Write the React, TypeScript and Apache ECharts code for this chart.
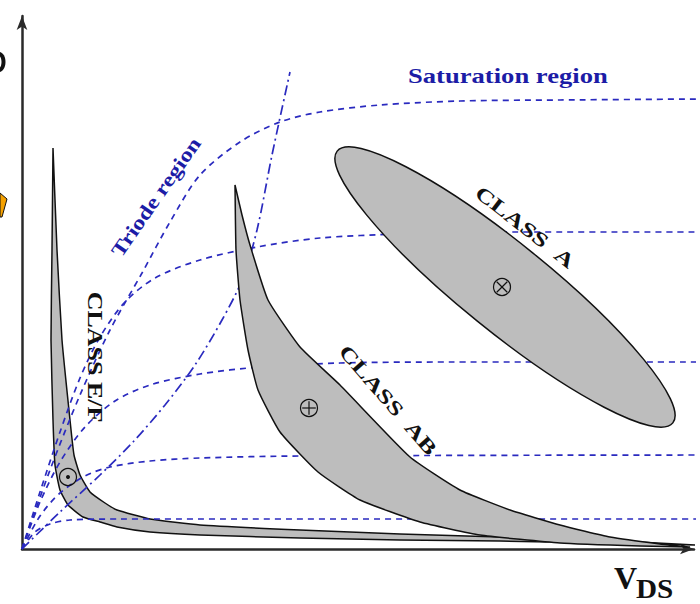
import React, { useEffect, useRef } from "react";
import * as echarts from "echarts";

// Drawing units: V_DS (x) and I_D (y), origin at the axes' corner.
const xMax = 672;
const yMax = 533;

// Output characteristics (blue dashed), one array per gate voltage
const satCurve1 = [[0,0],[28,79],[58,154],[88,219],[120,276],[148,327],[178,374],[218,407],[258,427],[298,437],[358,444],[438,448],[538,449],[678,450]];
const satCurve2 = [[0,0],[18,57],[38,117],[58,171],[78,212],[103,247],[133,271],[178,289],[235,302],[298,311],[378,315],[478,317],[678,317]];
const satCurve3 = [[0,0],[18,47],[38,87],[63,122],[93,148],[128,164],[178,175],[238,182],[318,186],[428,187],[678,187]];
const satCurve4 = [[0,0],[18,33],[38,56],[63,73],[88,82],[128,88],[178,91],[278,93],[678,94]];
const satCurve5 = [[0,0],[13,17],[28,25],[48,29],[98,30],[678,30]];

// Triode / saturation boundary (blue dash-dot)
const kneeLocus = [[0,0],[38,37],[78,74],[111,107],[143,144],[173,184],[200,229],[220,269],[235,319],[250,394],[268,477]];

// Class E/F trajectory band
const classEFOuter = [[31,401],[30,299],[29,209],[31,129],[33,84],[38,59],[46,44],[61,32],[78,27],[95,22],[128,17],[178,14],[278,11],[378,9],[478,8],[578,6],[673,4]];
const classEFInner = [[31,401],[35,299],[40,209],[48,129],[52,94],[58,74],[68,57],[83,46],[95,39],[128,30],[178,24],[278,19],[378,15],[478,12],[578,9],[673,4]];

// Class AB trajectory band
const classABOuter = [[213,364],[214,299],[218,249],[226,199],[236,159],[258,117],[296,77],[338,49],[398,27],[458,14],[538,6],[618,3],[668,2]];
const classABInner = [[213,364],[220,334],[228,304],[246,249],[278,202],[318,164],[388,92],[438,59],[488,39],[538,24],[588,12],[638,5],[668,2]];

// Class A ellipse
const classACenter = [483, 262];
const classAAxes = [216, 44];
const classATiltDeg = 39;

// Quiescent points
const qPoints = [[480, 262], [287, 141], [46, 72]];
const qKinds = ["times", "plus", "dot"];

const BLUE_LINE = "#2a2abf";
const BLUE_TEXT = "#1c1ca6";
const GRAY = "#bdbdbd";

function polygonSeries(outer: number[][], inner: number[][], z: number) {
  const pts = outer.concat(inner.slice().reverse());
  return {
    type: "custom",
    coordinateSystem: "cartesian2d",
    silent: true,
    z,
    clip: false,
    data: [[0, 0]],
    renderItem: (_p: any, api: any) => ({
      type: "polygon",
      shape: { points: pts.map((p) => api.coord(p)), smooth: 0.15 },
      style: { fill: GRAY, stroke: "#111", lineWidth: 1.5 },
    }),
  };
}

function lineSeries(data: number[][], dash: number[]) {
  return {
    type: "line",
    data,
    symbol: "none",
    showSymbol: false,
    smooth: 0.3,
    clip: false,
    silent: true,
    z: 2,
    lineStyle: { color: BLUE_LINE, width: 1.7, type: dash },
  };
}

export default function App() {
  const ref = useRef<HTMLDivElement>(null);
  useEffect(() => {
    document.body.style.margin = "0";
    const chart = echarts.init(ref.current!, undefined, { renderer: "svg" });
    const serif = '"Liberation Serif", "DejaVu Serif", serif';
    const axisCommon = {
      type: "value",
      axisLine: {
        show: true,
        symbol: ["none", "arrow"],
        symbolSize: [8, 14],
        lineStyle: { color: "#2a2a2a", width: 2.5 },
      },
      axisTick: { show: false },
      axisLabel: { show: false },
      splitLine: { show: false },
    };
    chart.setOption({
      animation: false,
      backgroundColor: "#ffffff",
      grid: { left: 22, right: 6, top: 16, bottom: 55 },
      xAxis: { ...axisCommon, min: 0, max: xMax },
      yAxis: { ...axisCommon, min: 0, max: yMax },
      series: [
        polygonSeries(classEFOuter, classEFInner, 1),
        lineSeries(satCurve1, [6, 5]),
        lineSeries(satCurve2, [6, 5]),
        lineSeries(satCurve3, [6, 5]),
        lineSeries(satCurve4, [6, 5]),
        lineSeries(satCurve5, [6, 5]),
        lineSeries(kneeLocus, [10, 4, 2, 4]),
        polygonSeries(classABOuter, classABInner, 3),
        {
          type: "custom",
          coordinateSystem: "cartesian2d",
          silent: true,
          z: 3,
          data: [[0, 0]],
          renderItem: (_p: any, api: any) => {
            const c = api.coord(classACenter);
            const s = api.size([1, 1]);
            return {
              type: "ellipse",
              x: c[0],
              y: c[1],
              rotation: (-classATiltDeg * Math.PI) / 180,
              shape: { cx: 0, cy: 0, rx: classAAxes[0] * s[0], ry: classAAxes[1] * s[1] },
              style: { fill: GRAY, stroke: "#111", lineWidth: 1.5 },
            };
          },
        },
        {
          type: "custom",
          coordinateSystem: "cartesian2d",
          silent: true,
          z: 4,
          data: qPoints,
          renderItem: (p: any, api: any) => {
            const c = api.coord([api.value(0), api.value(1)]);
            const kind = qKinds[p.dataIndex];
            const r = 8.5;
            const children: any[] = [
              { type: "circle", shape: { cx: c[0], cy: c[1], r }, style: { fill: "none", stroke: "#111", lineWidth: 1.2 } },
            ];
            if (kind === "times") {
              const d = r * 0.62;
              children.push({ type: "line", shape: { x1: c[0] - d, y1: c[1] - d, x2: c[0] + d, y2: c[1] + d }, style: { stroke: "#111", lineWidth: 1.2 } });
              children.push({ type: "line", shape: { x1: c[0] - d, y1: c[1] + d, x2: c[0] + d, y2: c[1] - d }, style: { stroke: "#111", lineWidth: 1.2 } });
            } else if (kind === "plus") {
              const d = r * 0.8;
              children.push({ type: "line", shape: { x1: c[0] - d, y1: c[1], x2: c[0] + d, y2: c[1] }, style: { stroke: "#111", lineWidth: 1.2 } });
              children.push({ type: "line", shape: { x1: c[0], y1: c[1] - d, x2: c[0], y2: c[1] + d }, style: { stroke: "#111", lineWidth: 1.2 } });
            } else {
              children.push({ type: "circle", shape: { cx: c[0], cy: c[1], r: 2 }, style: { fill: "#111" } });
            }
            return { type: "group", children };
          },
        },
      ],
      graphic: [
        {
          type: "text", x: 408, y: 75, scaleX: 1.21, z: 10,
          style: { text: "Saturation region", fill: BLUE_TEXT, fontSize: 22, fontWeight: "bold", fontFamily: serif, align: "left", verticalAlign: "middle" },
        },
        {
          type: "text", x: 156, y: 197, rotation: (55 * Math.PI) / 180, scaleX: 1.22, z: 10,
          style: { text: "Triode region", fill: BLUE_TEXT, fontSize: 20, fontWeight: "bold", fontFamily: serif, align: "center", verticalAlign: "middle" },
        },
        {
          type: "text", x: 95, y: 357, rotation: -Math.PI / 2, scaleX: 1.3, z: 10,
          style: { text: "CLASS E/F", fill: "#111", fontSize: 20, fontWeight: "bold", fontFamily: serif, align: "center", verticalAlign: "middle" },
        },
        {
          type: "text", x: 388, y: 400, rotation: (-49 * Math.PI) / 180, scaleX: 1.35, z: 10,
          style: { text: "CLASS\u00a0\u00a0AB", fill: "#111", fontSize: 20, fontWeight: "bold", fontFamily: serif, align: "center", verticalAlign: "middle" },
        },
        {
          type: "text", x: 525, y: 227, rotation: (-38 * Math.PI) / 180, scaleX: 1.35, z: 10,
          style: { text: "CLASS\u00a0\u00a0A", fill: "#111", fontSize: 20, fontWeight: "bold", fontFamily: serif, align: "center", verticalAlign: "middle" },
        },
        {
          type: "text", x: 614, y: 578, z: 10,
          style: { text: "V", fill: "#111", fontSize: 32, fontWeight: "bold", fontFamily: serif, align: "left", verticalAlign: "middle", lineHeight: 24 },
        },
        {
          type: "text", x: 636, y: 589, scaleX: 1.08, z: 10,
          style: { text: "DS", fill: "#111", fontSize: 27, fontWeight: "bold", fontFamily: serif, align: "left", verticalAlign: "middle", lineHeight: 20 },
        },
        // cropped glyph fragment at the left edge
        {
          type: "ellipse", z: 10,
          shape: { cx: -1, cy: 62, rx: 6.5, ry: 10 },
          style: { fill: "#111" },
        },
        {
          type: "ellipse", z: 11,
          shape: { cx: -1, cy: 62, rx: 2.5, ry: 6 },
          style: { fill: "#fff" },
        },
        {
          type: "polygon", z: 10,
          shape: { points: [[0, 193], [7, 199], [2, 217], [0, 217]] },
          style: { fill: "#f5a100", stroke: "#111", lineWidth: 1 },
        },
      ],
    });
    return () => chart.dispose();
  }, []);
  return <div ref={ref} style={{ width: 700, height: 604 }} />;
}
